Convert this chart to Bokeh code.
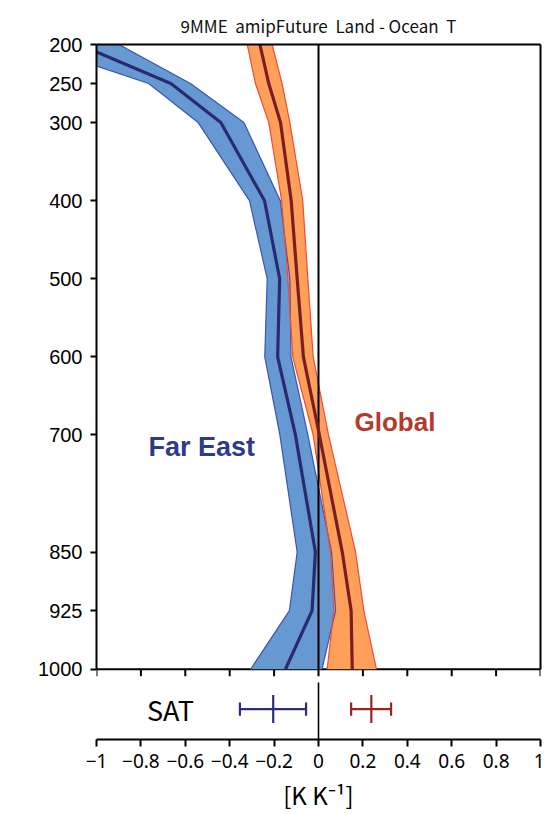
import math
from bokeh.plotting import figure
from bokeh.models import Range1d, LinearAxis, FixedTicker, Label, CustomJSTickFormatter
from bokeh.embed import file_html
from bokeh.resources import INLINE
from bokeh.core.properties import value

# ---------------- data ----------------
levels = [200, 250, 300, 400, 500, 600, 700, 850, 925, 1000]

fe_mean = [-1.08, -0.665, -0.44, -0.243, -0.175, -0.184, -0.104, -0.014, -0.029, -0.149]
fe_low = [-1.29, -0.765, -0.542, -0.311, -0.231, -0.242, -0.174, -0.096, -0.131, -0.306]
fe_high = [-0.899, -0.577, -0.336, -0.172, -0.129, -0.124, -0.048, 0.059, 0.077, 0.016]

gl_mean = [-0.264, -0.224, -0.171, -0.123, -0.096, -0.068, 0.004, 0.107, 0.147, 0.152]
gl_low = [-0.321, -0.284, -0.224, -0.166, -0.138, -0.116, -0.024, 0.054, 0.069, 0.039]
gl_high = [-0.209, -0.164, -0.129, -0.071, -0.048, -0.024, 0.045, 0.167, 0.204, 0.261]

sat_mean = [-0.204, 0.238]
sat_low = [-0.354, 0.147]
sat_high = [-0.056, 0.327]
sat_colors = ["#2B2F7A", "#9A2424"]

x_ticks = [-1, -0.8, -0.6, -0.4, -0.2, 0, 0.2, 0.4, 0.6, 0.8, 1]
y_ticks = levels

# ---------------- figure ----------------
P_TOP, P_SFC, P_BOTTOM = 200, 1000, 1090
SAT_Y = 1051

p = figure(frame_width=444, frame_height=695,
           min_border_left=96, min_border_right=4, min_border_top=44, min_border_bottom=75,
           x_range=Range1d(-1, 1), y_range=Range1d(P_BOTTOM, P_TOP),
           output_backend="svg", toolbar_location=None,
           background_fill_color="white", border_fill_color="white")
p.outline_line_color = None
p.grid.visible = False

NB = "\u00a0"
p.title.text = f"9MME{NB}{NB}amipFuture{NB}{NB}Land{NB}-{NB}Ocean{NB}{NB}T"
p.title.align = "center"
p.title.text_font = "Noto Sans CJK JP"
p.title.text_font_size = "17px"
p.title.text_font_style = "normal"
p.title.text_color = "#111111"
p.title.standoff = 14

# left axis
ya = p.yaxis[0]
ya.ticker = FixedTicker(ticks=y_ticks)
ya.bounds = (P_TOP, P_SFC)
ya.axis_line_width = 2
ya.major_tick_line_width = 2
ya.major_tick_out = 6
ya.major_tick_in = 0
ya.minor_tick_out = 0
ya.minor_tick_in = 0
ya.major_label_standoff = 8
ya.major_label_text_font = "Liberation Sans"
ya.major_label_text_font_size = "20px"
ya.major_label_text_color = "black"

# bottom axis
xa = p.xaxis[0]
xa.ticker = FixedTicker(ticks=x_ticks)
xa.formatter = CustomJSTickFormatter(code="""
    if (Math.abs(tick) < 1e-9) return '0';
    const s = String(Math.round(tick * 10) / 10);
    return s.replace('-', '\u2212');
""")
xa.axis_line_width = 2
xa.major_tick_line_width = 2
xa.major_tick_out = 7
xa.major_tick_in = 0
xa.minor_tick_out = 0
xa.minor_tick_in = 0
xa.major_label_standoff = 7
xa.major_label_text_font = "Noto Sans"
xa.major_label_text_font_size = "19px"
xa.major_label_text_color = "black"
xa.axis_label = "[K K\u207b\u00b9]"
xa.axis_label_text_font = "Noto Sans CJK JP"
xa.axis_label_text_font_size = "24px"
xa.axis_label_text_font_style = "normal"
xa.axis_label_text_color = "black"
xa.axis_label_standoff = 6

# frame top and right
top_ax = LinearAxis(ticker=FixedTicker(ticks=[]), axis_line_width=2,
                    major_tick_out=0, major_tick_in=0, minor_tick_out=0, minor_tick_in=0,
                    major_label_text_font_size="0px")
p.add_layout(top_ax, "above")
right_ax = LinearAxis(ticker=FixedTicker(ticks=[]), axis_line_width=2, bounds=(P_TOP, P_SFC),
                      major_tick_out=0, major_tick_in=0, minor_tick_out=0, minor_tick_in=0,
                      major_label_text_font_size="0px")
p.add_layout(right_ax, "right")

# bottom line of main panel with downward ticks
p.segment(x0=[-1], x1=[1], y0=[P_SFC], y1=[P_SFC], line_color="black", line_width=2)
p.segment(x0=x_ticks, x1=x_ticks, y0=[P_SFC] * len(x_ticks), y1=[P_SFC + 9] * len(x_ticks),
          line_color="black", line_width=2)

# bands
p.harea(y=levels, x1=fe_low, x2=fe_high, fill_color="#6699D2", fill_alpha=1)
p.harea(y=levels, x1=gl_low, x2=gl_high, fill_color="#FFA05A", fill_alpha=1)
p.line(fe_low, levels, line_color="#3A56B0", line_width=1.2)
p.line(fe_high, levels, line_color="#3A56B0", line_width=1.2)
p.line(gl_low, levels, line_color="#EE4A3A", line_width=1.2)
p.line(gl_high, levels, line_color="#EE4A3A", line_width=1.2)

# zero line
p.segment(x0=[0], x1=[0], y0=[P_TOP], y1=[P_SFC], line_color="black", line_width=2)
p.segment(x0=[0], x1=[0], y0=[1017], y1=[P_BOTTOM], line_color="black", line_width=1.6)

# mean lines
p.line(fe_mean, levels, line_color="#2B2A6E", line_width=3.2)
p.line(gl_mean, levels, line_color="#7A1E24", line_width=3.2)

# labels
p.text(x=[-0.766], y=[716], text=["Far East"], text_font=value("Liberation Sans"),
       text_font_style="bold", text_font_size="27px", text_color="#2E3A8A",
       text_align="left", text_baseline="middle")
p.text(x=[0.162], y=[683], text=["Global"], text_font=value("Liberation Sans"),
       text_font_style="bold", text_font_size="26px", text_color="#B43A2B",
       text_align="left", text_baseline="middle")

# SAT row
p.text(x=[-0.667], y=[SAT_Y], text=["SAT"], text_font=value("Noto Sans CJK JP"),
       text_font_size="27px", text_color="black", text_align="center", text_baseline="middle")
n = len(sat_mean)
p.segment(x0=sat_low, x1=sat_high, y0=[SAT_Y] * n, y1=[SAT_Y] * n, line_color=sat_colors, line_width=2.2)
p.segment(x0=sat_low, x1=sat_low, y0=[SAT_Y - 8.5] * n, y1=[SAT_Y + 8.5] * n, line_color=sat_colors, line_width=2.2)
p.segment(x0=sat_high, x1=sat_high, y0=[SAT_Y - 8.5] * n, y1=[SAT_Y + 8.5] * n, line_color=sat_colors, line_width=2.2)
p.segment(x0=sat_mean, x1=sat_mean, y0=[SAT_Y - 18] * n, y1=[SAT_Y + 18] * n, line_color=sat_colors, line_width=2.2)

# y axis title
p.add_layout(Label(x=-1.33, y=545, text="[hPa]", angle=math.pi / 2,
                   text_align="center", text_baseline="middle",
                   text_font="Liberation Sans", text_font_size="20px", text_color="black"))

open("out.html", "w").write(file_html(p, INLINE))
